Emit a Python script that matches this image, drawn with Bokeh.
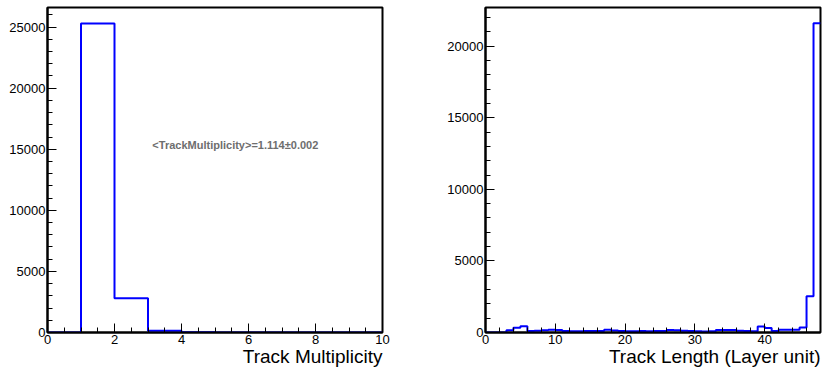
from bokeh.plotting import figure
from bokeh.layouts import row
from bokeh.models import Label, SingleIntervalTicker, Range1d, Title
from bokeh.embed import file_html
from bokeh.resources import INLINE

# ---- data ----
mult_edges = list(range(0, 11))
mult_counts = [0, 25300, 2800, 150, 12, 4, 1, 0, 0, 0]
mult_title = "Track Multiplicity"
mult_stat = "<TrackMultiplicity>=1.114\u00b10.002"

len_edges = list(range(0, 49))
len_counts = [0, 0, 0, 150, 330, 430, 100, 130, 160, 200,
              180, 100, 90, 90, 100, 100, 110, 190, 140, 100,
              90, 90, 100, 90, 100, 110, 170, 160, 120, 110,
              80, 70, 90, 170, 180, 180, 120, 110, 80, 420,
              320, 100, 190, 190, 200, 350, 2540, 21600]
len_title = "Track Length (Layer unit)"

FONT = "Liberation Sans"


def make_panel(edges, counts, ymax, xint, xminor, yint, yminor,
               bl, br, bt, bb, title):
    w = 411
    h = 368
    p = figure(width=w, height=h, output_backend="svg", toolbar_location=None,
               x_range=Range1d(edges[0], edges[-1]), y_range=Range1d(0, ymax),
               min_border_left=bl, min_border_right=br,
               min_border_top=bt, min_border_bottom=bb)
    p.xgrid.visible = False
    p.ygrid.visible = False
    p.background_fill_color = "white"
    p.border_fill_color = "white"
    p.outline_line_color = "black"
    p.outline_line_width = 2

    p.xaxis.ticker = SingleIntervalTicker(interval=xint, num_minor_ticks=xminor)
    p.yaxis.ticker = SingleIntervalTicker(interval=yint, num_minor_ticks=yminor)
    for ax in (p.xaxis, p.yaxis):
        ax.axis_line_color = "black"
        ax.axis_line_width = 2
        ax.major_tick_in = 9
        ax.major_tick_out = 0
        ax.minor_tick_in = 5
        ax.minor_tick_out = 0
        ax.major_tick_line_color = "black"
        ax.minor_tick_line_color = "black"
        ax.major_label_text_font = FONT
        ax.major_label_text_font_size = "13px"
        ax.major_label_text_color = "black"
    p.xaxis.major_label_standoff = 2
    p.yaxis.major_label_standoff = 2

    p.add_layout(Title(text=title, align="right", text_font=FONT,
                       text_font_size="19px", text_font_style="normal",
                       text_color="black", standoff=-6), "below")

    xs = list(edges)
    ys = list(counts) + [counts[-1]]
    p.step(xs, ys, mode="after", line_color="#0000ff", line_width=2)
    return p


left = make_panel(mult_edges, mult_counts, 26600, 2, 4, 5000, 5,
                  47, 29, 6, 36, mult_title)
left.add_layout(Label(x=3.13, y=15360, text=mult_stat, text_align="left",
                      text_baseline="middle", text_font=FONT,
                      text_font_size="11px", text_font_style="bold",
                      text_color="#6e6e6e"))

right = make_panel(len_edges, len_counts, 22700, 10, 5, 5000, 5,
                   74, 2, 7, 36, len_title)

layout = row(left, right)
open("out.html", "w").write(file_html(layout, INLINE))
